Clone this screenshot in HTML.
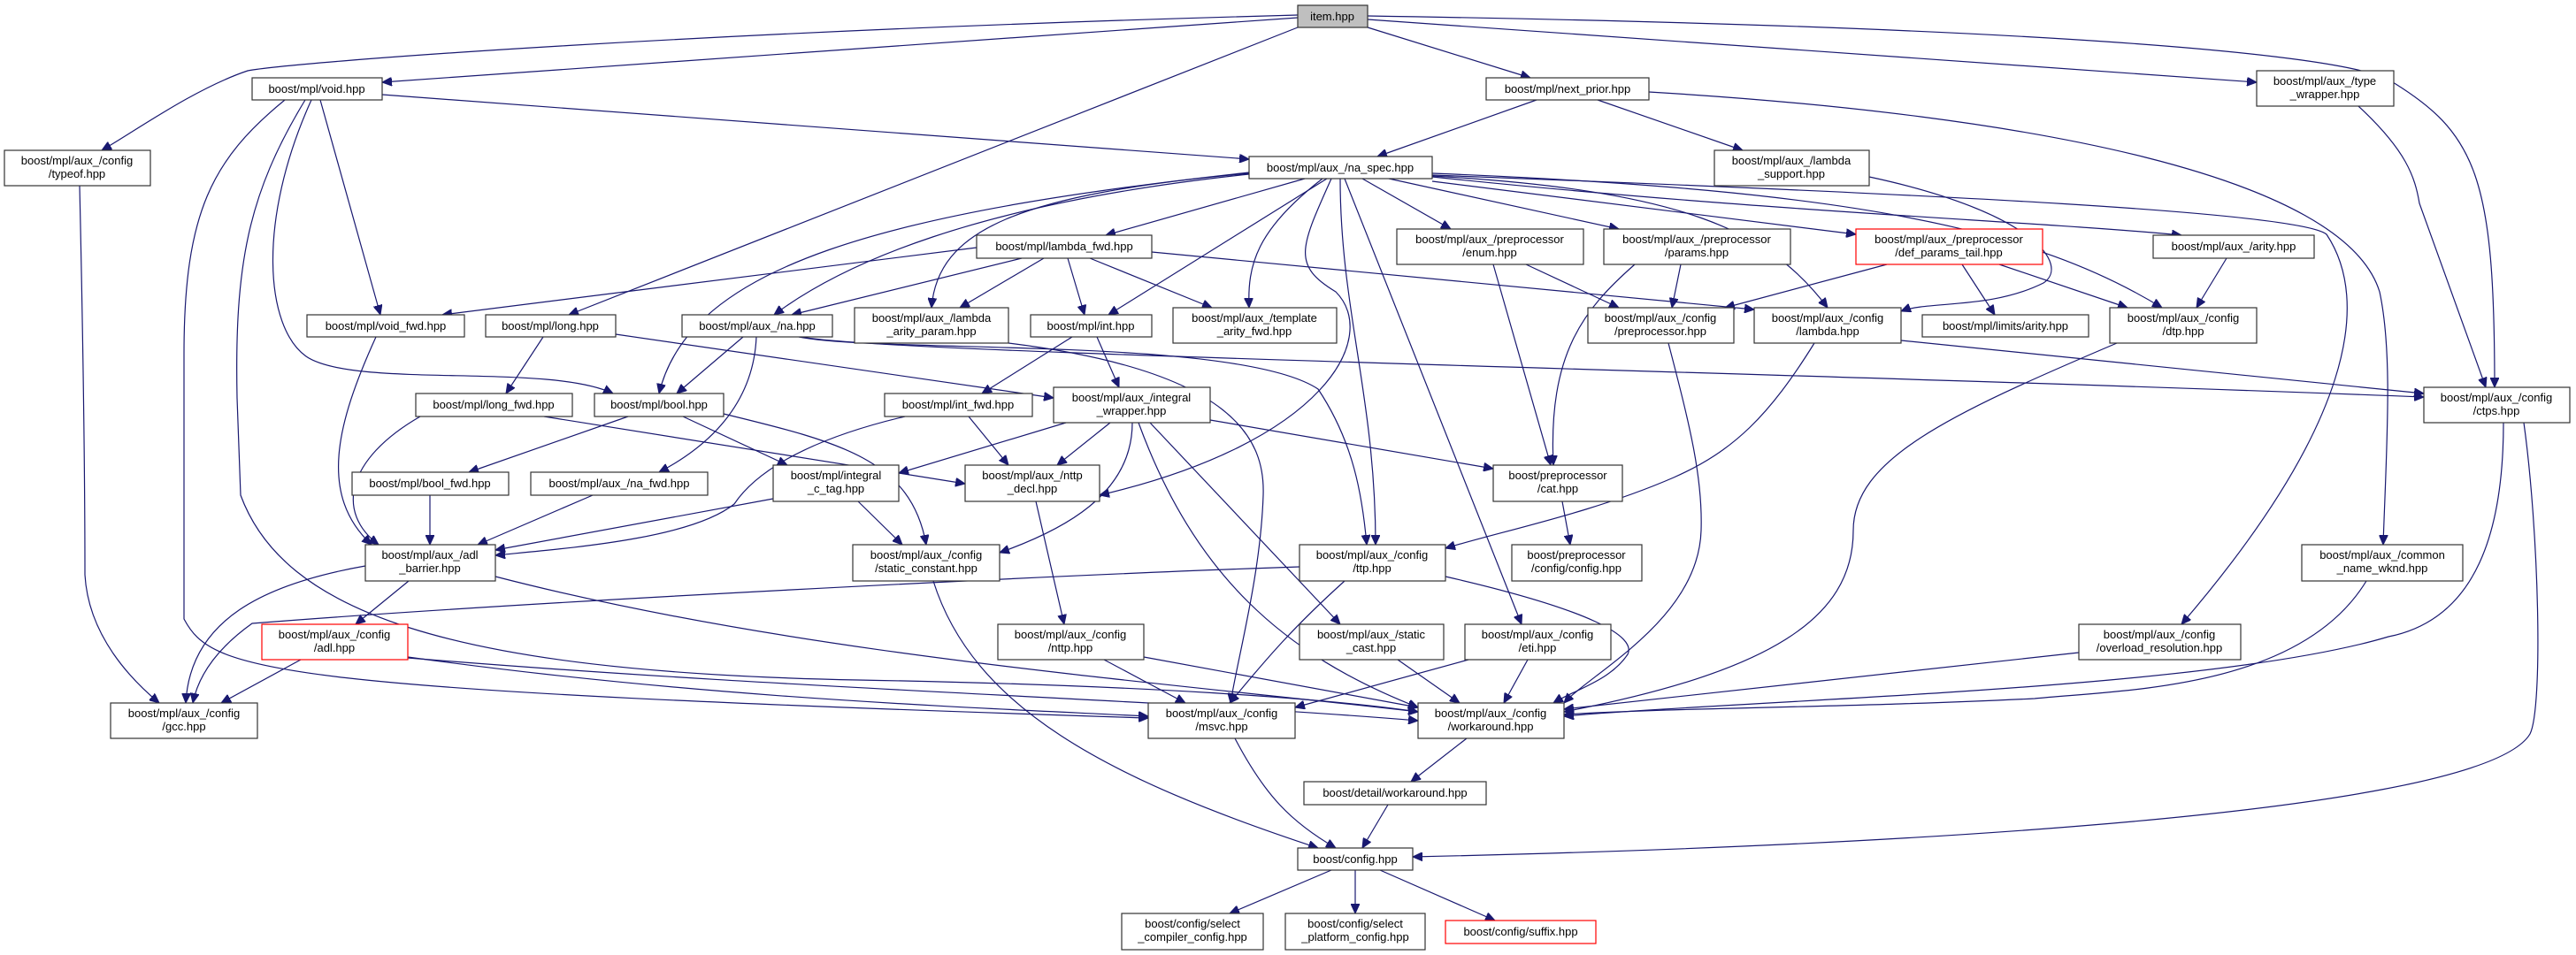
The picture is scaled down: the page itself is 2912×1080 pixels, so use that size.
<!DOCTYPE html>
<html><head><meta charset="utf-8"><style>
html,body{margin:0;padding:0;background:#fff}
svg{display:block}
text{font-family:"Liberation Sans",sans-serif;font-size:13px;fill:#000;text-anchor:middle}
.n rect{fill:#fff;stroke:#333;stroke-width:1.2}
.r rect{stroke:#ff0000}
.e path{fill:none;stroke:#191970;stroke-width:1.2;marker-end:url(#a)}
</style></head><body>
<svg width="2912" height="1080" viewBox="0 0 2912 1080" xmlns="http://www.w3.org/2000/svg">
<defs><marker id="a" markerUnits="userSpaceOnUse" markerWidth="12" markerHeight="10" refX="11" refY="5" orient="auto"><path d="M0,0 L11,5 L0,10 z" fill="#191970" stroke="#191970"/></marker></defs>
<g class="e">
<path d="M1467,17 C800,35 330,70 280,80 C220,100 150,150 115,170"/>
<path d="M1467,20 L432,93"/>
<path d="M1467,31 L643,356"/>
<path d="M1546,31 L1730,88"/>
<path d="M1546,22 L2551,93"/>
<path d="M1546,18 C2300,30 2640,60 2700,90 C2800,150 2820,200 2820,438"/>
<path d="M432,107 L1412,180"/>
<path d="M362,113 L430,356"/>
<path d="M352,113 C290,250 300,370 346,403 C400,440 620,410 693,445"/>
<path d="M322,113 C240,180 208,240 208,400 L208,700 C240,760 300,780 1298,812"/>
<path d="M345,113 C280,220 265,300 268,450 L272,560 C320,690 500,760 970,769 C1300,775 1500,790 1603,805"/>
<path d="M90,210 C92,300 96,500 96,650 C100,720 150,770 180,795"/>
<path d="M1737,113 L1557,177"/>
<path d="M1806,113 L1970,170"/>
<path d="M1864,104 C2300,130 2650,200 2690,330 C2705,400 2698,500 2694,616"/>
<path d="M1475,202 L1250,266"/>
<path d="M1540,202 L1640,259"/>
<path d="M1570,202 L1830,259"/>
<path d="M1619,205 L2098,265"/>
<path d="M1619,200 C2000,240 2300,250 2466,266"/>
<path d="M1619,196 C2100,215 2300,260 2444,348"/>
<path d="M1619,199 C1900,215 2000,260 2066,348"/>
<path d="M1619,198 C2200,220 2600,240 2630,265 C2680,340 2660,480 2466,706"/>
<path d="M1412,195 C1000,240 780,300 745,445"/>
<path d="M1412,197 C1100,230 950,300 875,356"/>
<path d="M1412,196 C1150,220 1060,260 1053,348"/>
<path d="M1500,202 L1253,356"/>
<path d="M1495,202 C1420,260 1410,300 1412,348"/>
<path d="M1505,202 C1470,280 1460,300 1510,330 C1560,380 1500,500 1243,560"/>
<path d="M1515,202 C1515,350 1555,450 1555,616"/>
<path d="M1520,202 L1720,706"/>
<path d="M1104,280 L500,356"/>
<path d="M1155,292 L895,356"/>
<path d="M1180,292 L1085,348"/>
<path d="M1207,292 L1226,356"/>
<path d="M1232,292 L1370,348"/>
<path d="M1302,285 L1983,350"/>
<path d="M840,381 L765,445"/>
<path d="M855,381 C852,450 810,500 745,534"/>
<path d="M906,381 C1000,400 2000,420 2740,449"/>
<path d="M903,381 C1000,400 1400,380 1490,440 C1530,500 1540,560 1545,616"/>
<path d="M614,381 L572,445"/>
<path d="M696,378 L1191,450"/>
<path d="M425,381 C380,480 360,560 420,616"/>
<path d="M475,471 C390,520 380,580 428,616"/>
<path d="M615,471 L1091,547"/>
<path d="M710,471 L530,534"/>
<path d="M772,471 L890,526"/>
<path d="M818,468 C950,500 1030,520 1047,616"/>
<path d="M1212,381 L1110,445"/>
<path d="M1240,381 L1265,438"/>
<path d="M1023,471 C900,500 850,540 830,570 C780,610 640,620 560,628"/>
<path d="M1095,471 L1140,526"/>
<path d="M1205,478 L1016,535"/>
<path d="M1255,478 L1195,526"/>
<path d="M1280,478 C1280,560 1200,600 1130,625"/>
<path d="M1368,475 L1688,530"/>
<path d="M1300,478 L1515,706"/>
<path d="M1287,478 C1350,650 1450,740 1603,800"/>
<path d="M1140,388 C1400,420 1430,500 1428,560 C1425,650 1400,740 1391,795"/>
<path d="M1725,299 L1830,348"/>
<path d="M1688,299 L1753,526"/>
<path d="M1900,299 L1890,348"/>
<path d="M1848,299 C1790,350 1750,400 1756,526"/>
<path d="M2133,299 L1950,348"/>
<path d="M2218,299 L2255,356"/>
<path d="M2260,299 L2405,348"/>
<path d="M2113,200 C2300,240 2340,300 2310,320 C2250,350 2180,340 2149,352"/>
<path d="M2051,388 C2000,470 1960,510 1892,540 C1800,580 1700,600 1634,620"/>
<path d="M1886,388 C1910,480 1925,540 1923,600 C1920,700 1800,760 1768,795"/>
<path d="M2149,385 L2740,445"/>
<path d="M2517,292 L2483,348"/>
<path d="M2393,388 C2200,470 2095,520 2095,600 C2095,700 2000,760 1768,805"/>
<path d="M2830,478 C2830,600 2800,700 2700,720 C2500,780 2000,790 1768,810"/>
<path d="M2853,478 C2870,600 2875,800 2860,830 C2800,930 2000,960 1597,969"/>
<path d="M2675,657 C2600,780 2400,780 2300,790 C2100,800 1900,800 1768,808"/>
<path d="M2350,738 L1768,802"/>
<path d="M2666,120 C2720,170 2730,200 2735,230 L2810,438"/>
<path d="M486,560 L486,616"/>
<path d="M670,560 L540,616"/>
<path d="M874,564 L560,622"/>
<path d="M970,567 L1020,616"/>
<path d="M462,657 L402,706"/>
<path d="M413,640 C300,660 215,700 210,795"/>
<path d="M560,652 C900,740 1300,770 1603,805"/>
<path d="M340,746 L250,795"/>
<path d="M461,743 C800,790 1100,800 1298,810"/>
<path d="M461,744 C900,780 1300,790 1603,815"/>
<path d="M1469,641 C1200,650 600,680 285,705 C250,730 225,760 218,795"/>
<path d="M1520,657 C1450,720 1420,760 1390,795"/>
<path d="M1634,652 C1800,690 1850,720 1840,740 C1820,770 1780,780 1756,795"/>
<path d="M1766,567 L1775,616"/>
<path d="M1171,567 L1203,706"/>
<path d="M1248,746 L1340,795"/>
<path d="M1293,743 L1603,800"/>
<path d="M1580,746 L1650,795"/>
<path d="M1660,746 L1464,800"/>
<path d="M1727,746 L1700,795"/>
<path d="M1055,657 C1100,800 1250,880 1490,959"/>
<path d="M1396,835 C1430,900 1460,930 1510,959"/>
<path d="M1658,835 L1595,884"/>
<path d="M1569,910 L1540,959"/>
<path d="M1505,984 L1390,1033"/>
<path d="M1532,984 L1532,1033"/>
<path d="M1560,984 L1690,1041"/>
</g>
<g class="n">
<rect x="1467" y="6" width="79" height="25" style="fill:#bfbfbf"/><text x="1506" y="23">item.hpp</text>
<rect x="285" y="88" width="147" height="25"/><text x="358" y="105">boost/mpl/void.hpp</text>
<rect x="5" y="170" width="165" height="40"/><text x="87" y="186">boost/mpl/aux_/config</text><text x="87" y="201">/typeof.hpp</text>
<rect x="1680" y="88" width="184" height="25"/><text x="1772" y="105">boost/mpl/next_prior.hpp</text>
<rect x="2551" y="80" width="155" height="40"/><text x="2628" y="96">boost/mpl/aux_/type</text><text x="2628" y="111">_wrapper.hpp</text>
<rect x="1412" y="177" width="207" height="25"/><text x="1515" y="194">boost/mpl/aux_/na_spec.hpp</text>
<rect x="1938" y="170" width="175" height="40"/><text x="2025" y="186">boost/mpl/aux_/lambda</text><text x="2025" y="201">_support.hpp</text>
<rect x="1104" y="266" width="198" height="26"/><text x="1203" y="283">boost/mpl/lambda_fwd.hpp</text>
<rect x="1579" y="259" width="211" height="40"/><text x="1684" y="275">boost/mpl/aux_/preprocessor</text><text x="1684" y="290">/enum.hpp</text>
<rect x="1813" y="259" width="211" height="40"/><text x="1918" y="275">boost/mpl/aux_/preprocessor</text><text x="1918" y="290">/params.hpp</text>
<g class="r"><rect x="2098" y="259" width="211" height="40"/></g><text x="2203" y="275">boost/mpl/aux_/preprocessor</text><text x="2203" y="290">/def_params_tail.hpp</text>
<rect x="2434" y="266" width="182" height="26"/><text x="2525" y="283">boost/mpl/aux_/arity.hpp</text>
<rect x="347" y="356" width="178" height="25"/><text x="436" y="373">boost/mpl/void_fwd.hpp</text>
<rect x="549" y="356" width="147" height="25"/><text x="622" y="373">boost/mpl/long.hpp</text>
<rect x="771" y="356" width="170" height="25"/><text x="856" y="373">boost/mpl/aux_/na.hpp</text>
<rect x="966" y="348" width="174" height="40"/><text x="1053" y="364">boost/mpl/aux_/lambda</text><text x="1053" y="379">_arity_param.hpp</text>
<rect x="1165" y="356" width="137" height="25"/><text x="1233" y="373">boost/mpl/int.hpp</text>
<rect x="1326" y="348" width="185" height="40"/><text x="1418" y="364">boost/mpl/aux_/template</text><text x="1418" y="379">_arity_fwd.hpp</text>
<rect x="1795" y="348" width="165" height="40"/><text x="1877" y="364">boost/mpl/aux_/config</text><text x="1877" y="379">/preprocessor.hpp</text>
<rect x="1983" y="348" width="166" height="40"/><text x="2066" y="364">boost/mpl/aux_/config</text><text x="2066" y="379">/lambda.hpp</text>
<rect x="2173" y="356" width="188" height="25"/><text x="2267" y="373">boost/mpl/limits/arity.hpp</text>
<rect x="2385" y="348" width="166" height="40"/><text x="2468" y="364">boost/mpl/aux_/config</text><text x="2468" y="379">/dtp.hpp</text>
<rect x="470" y="445" width="177" height="26"/><text x="558" y="462">boost/mpl/long_fwd.hpp</text>
<rect x="672" y="445" width="146" height="26"/><text x="745" y="462">boost/mpl/bool.hpp</text>
<rect x="1000" y="445" width="167" height="26"/><text x="1083" y="462">boost/mpl/int_fwd.hpp</text>
<rect x="1191" y="438" width="177" height="40"/><text x="1279" y="454">boost/mpl/aux_/integral</text><text x="1279" y="469">_wrapper.hpp</text>
<rect x="2740" y="438" width="165" height="40"/><text x="2822" y="454">boost/mpl/aux_/config</text><text x="2822" y="469">/ctps.hpp</text>
<rect x="398" y="534" width="177" height="26"/><text x="486" y="551">boost/mpl/bool_fwd.hpp</text>
<rect x="600" y="534" width="200" height="26"/><text x="700" y="551">boost/mpl/aux_/na_fwd.hpp</text>
<rect x="874" y="526" width="142" height="41"/><text x="945" y="542">boost/mpl/integral</text><text x="945" y="557">_c_tag.hpp</text>
<rect x="1091" y="526" width="152" height="41"/><text x="1167" y="542">boost/mpl/aux_/nttp</text><text x="1167" y="557">_decl.hpp</text>
<rect x="1688" y="526" width="146" height="41"/><text x="1761" y="542">boost/preprocessor</text><text x="1761" y="557">/cat.hpp</text>
<rect x="413" y="616" width="147" height="41"/><text x="486" y="632">boost/mpl/aux_/adl</text><text x="486" y="647">_barrier.hpp</text>
<rect x="964" y="616" width="166" height="41"/><text x="1047" y="632">boost/mpl/aux_/config</text><text x="1047" y="647">/static_constant.hpp</text>
<rect x="1469" y="616" width="165" height="41"/><text x="1551" y="632">boost/mpl/aux_/config</text><text x="1551" y="647">/ttp.hpp</text>
<rect x="1709" y="616" width="147" height="41"/><text x="1782" y="632">boost/preprocessor</text><text x="1782" y="647">/config/config.hpp</text>
<rect x="2602" y="616" width="182" height="41"/><text x="2693" y="632">boost/mpl/aux_/common</text><text x="2693" y="647">_name_wknd.hpp</text>
<g class="r"><rect x="296" y="706" width="165" height="40"/></g><text x="378" y="722">boost/mpl/aux_/config</text><text x="378" y="737">/adl.hpp</text>
<rect x="1128" y="706" width="165" height="40"/><text x="1210" y="722">boost/mpl/aux_/config</text><text x="1210" y="737">/nttp.hpp</text>
<rect x="1469" y="706" width="163" height="40"/><text x="1550" y="722">boost/mpl/aux_/static</text><text x="1550" y="737">_cast.hpp</text>
<rect x="1656" y="706" width="165" height="40"/><text x="1738" y="722">boost/mpl/aux_/config</text><text x="1738" y="737">/eti.hpp</text>
<rect x="2350" y="706" width="183" height="40"/><text x="2441" y="722">boost/mpl/aux_/config</text><text x="2441" y="737">/overload_resolution.hpp</text>
<rect x="125" y="795" width="166" height="40"/><text x="208" y="811">boost/mpl/aux_/config</text><text x="208" y="826">/gcc.hpp</text>
<rect x="1298" y="795" width="166" height="40"/><text x="1381" y="811">boost/mpl/aux_/config</text><text x="1381" y="826">/msvc.hpp</text>
<rect x="1603" y="795" width="165" height="40"/><text x="1685" y="811">boost/mpl/aux_/config</text><text x="1685" y="826">/workaround.hpp</text>
<rect x="1474" y="884" width="206" height="26"/><text x="1577" y="901">boost/detail/workaround.hpp</text>
<rect x="1467" y="959" width="130" height="25"/><text x="1532" y="976">boost/config.hpp</text>
<rect x="1268" y="1033" width="160" height="41"/><text x="1348" y="1049">boost/config/select</text><text x="1348" y="1064">_compiler_config.hpp</text>
<rect x="1453" y="1033" width="158" height="41"/><text x="1532" y="1049">boost/config/select</text><text x="1532" y="1064">_platform_config.hpp</text>
<g class="r"><rect x="1634" y="1041" width="170" height="26"/></g><text x="1719" y="1058">boost/config/suffix.hpp</text>
</g>
</svg>
</body></html>
